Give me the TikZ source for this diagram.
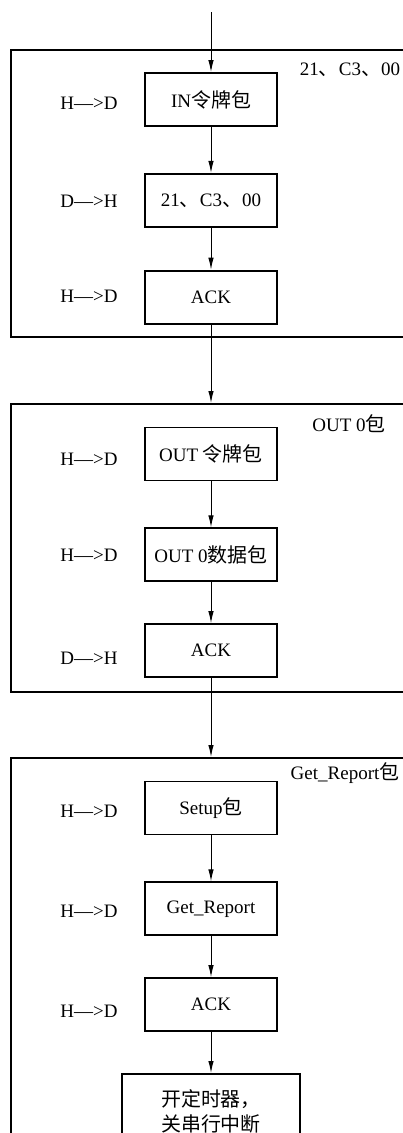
\documentclass[tikz,border=0pt]{standalone}
\usepackage{fontspec}
\setmainfont{Liberation Serif}
\newfontfamily\cjk{Noto Sans CJK SC}[Scale=1.05]
\usetikzlibrary{positioning, arrows.meta}
\newcommand{\zh}[1]{{\cjk #1}}

\begin{document}
\begin{tikzpicture}[
    x=1pt, y=-1pt, >={Latex[length=12pt,width=5.5pt]},
    font=\fontsize{19}{25}\selectfont,
    frame/.style={draw, line width=2pt, anchor=north west, minimum width=440pt, inner sep=0pt},
    pkt/.style={draw, line width=1.8pt, minimum width=132pt, minimum height=53pt, inner sep=2pt},
    dir/.style={inner sep=0pt},
    flow/.style={->, line width=1pt}
]
    \useasboundingbox (0,0) rectangle (403,1133);
    \clip (0,0) rectangle (403,1133);

    % three transfer stages
    \node[frame, minimum height=287pt] (f1) at (10,49)  {};
    \node[frame, minimum height=288pt] (f2) at (10,403) {};
    \node[frame, minimum height=400pt] (f3) at (10,757) {};

    \node at (350,70)  (t1) {21\zh{、}C3\zh{、}00};
    \node at (349,424) (t2) {OUT 0\zh{包}};
    \node at (345,773) (t3) {Get\_Report\zh{包}};

    % stage 1
    \node[pkt] (b11) at (211,99.5)    {IN\zh{令牌包}};
    \node[pkt, below=46pt of b11] (b12) {21\zh{、}C3\zh{、}00};
    \node[pkt, below=42pt of b12] (b13) {ACK};
    \node[dir] (d11) at (89,103) {H—>D};
    \node[dir] (d12) at (89,201) {D—>H};
    \node[dir] (d13) at (89,296) {H—>D};

    % stage 2
    \node[pkt] (b21) at (211,454)     {OUT \zh{令牌包}};
    \node[pkt, below=46pt of b21] (b22) {OUT 0\zh{数据包}};
    \node[pkt, below=41pt of b22] (b23) {ACK};
    \node[dir] (d21) at (89,459) {H—>D};
    \node[dir] (d22) at (89,555) {H—>D};
    \node[dir] (d23) at (89,658) {D—>H};

    % stage 3
    \node[pkt] (b31) at (211,808)     {Setup\zh{包}};
    \node[pkt, below=46pt of b31] (b32) {Get\_Report};
    \node[pkt, below=41pt of b32] (b33) {ACK};
    \node[pkt, below=41pt of b33, minimum width=178pt, minimum height=75pt, align=left] (b34)
        {\zh{开定时器，}\\\zh{关串行中断}};
    \node[dir] (d31) at (89,811)  {H—>D};
    \node[dir] (d32) at (89,911)  {H—>D};
    \node[dir] (d33) at (89,1011) {H—>D};

    \coordinate (start) at (211,12);

    \draw[flow] (start) -- (b11);
    \draw[flow] (b11) -- (b12);
    \draw[flow] (b12) -- (b13);
    \draw[flow] (b13.south) -- (b13.south |- f2.north);
    \draw[flow] (b21) -- (b22);
    \draw[flow] (b22) -- (b23);
    \draw[flow] (b23.south) -- (b23.south |- f3.north);
    \draw[flow] (b31) -- (b32);
    \draw[flow] (b32) -- (b33);
    \draw[flow] (b33) -- (b34);
\end{tikzpicture}
\end{document}
